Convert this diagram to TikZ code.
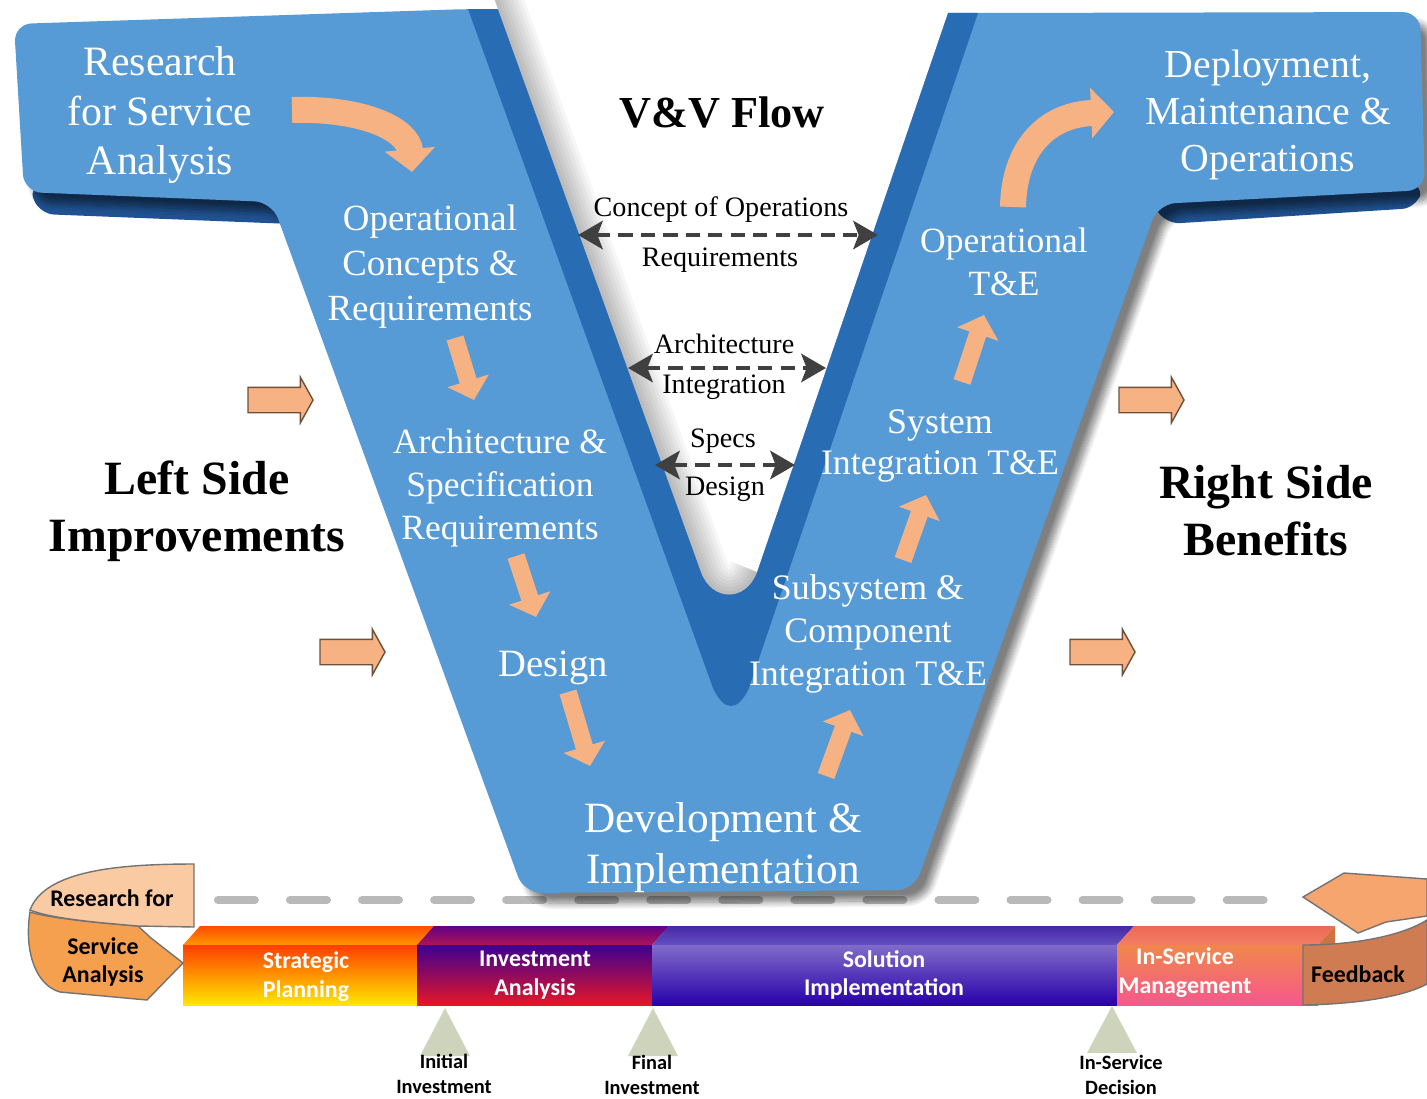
\documentclass[tikz,border=0pt]{standalone}
\usepackage{fontspec}
\setmainfont{Liberation Serif}
\newfontfamily\barfont{Carlito}
\usetikzlibrary{arrows.meta,shapes.arrows,shadows.blur}
\definecolor{vface}{RGB}{86,154,214}
\definecolor{vside}{RGB}{40,108,180}
\definecolor{vunder}{RGB}{32,82,145}
\definecolor{peach}{RGB}{246,178,130}
\definecolor{ddash}{RGB}{64,64,64}
\definecolor{mile}{RGB}{206,211,188}
\definecolor{spA}{RGB}{255,62,0}\definecolor{spB}{RGB}{255,232,0}
\definecolor{spC}{RGB}{255,75,0}\definecolor{spD}{RGB}{255,150,0}
\definecolor{iaA}{RGB}{62,0,145}\definecolor{iaB}{RGB}{228,22,40}
\definecolor{iaC}{RGB}{95,0,135}\definecolor{iaD}{RGB}{175,20,85}
\definecolor{siA}{RGB}{128,108,200}\definecolor{siB}{RGB}{40,0,170}
\definecolor{siC}{RGB}{70,40,165}\definecolor{siD}{RGB}{100,80,195}
\definecolor{smA}{RGB}{240,135,75}\definecolor{smB}{RGB}{246,88,140}
\definecolor{smC}{RGB}{235,105,85}\definecolor{smD}{RGB}{245,125,100}
\definecolor{fbA}{RGB}{246,165,110}\definecolor{fbB}{RGB}{208,124,82}
\definecolor{rsA}{RGB}{250,203,163}\definecolor{rsB}{RGB}{245,160,78}
\begin{document}
\begin{tikzpicture}[x=0.1mm,y=-0.1mm,
  vtext/.style={text=white,align=center,inner sep=0pt},
  vvtext/.style={align=center,inner sep=0pt,font=\fontsize{8}{9}\selectfont},
  sidetext/.style={align=center,font=\bfseries\fontsize{13.6}{16.2}\selectfont},
  flow/.style={peach,line width=5pt,-{Triangle[length=5.7pt,width=12pt]}},
  bigflow/.style={peach,line width=7.4pt,-{Triangle[length=6.5pt,width=14pt]}},
  vvarrow/.style={ddash,line width=1.4pt,dash pattern=on 4pt off 2.4pt,
    {Stealth[length=7pt,width=8pt,inset=1.5pt]}-{Stealth[length=7pt,width=8pt,inset=1.5pt]}},
  sidearrow/.style={single arrow,draw=peach!45!black,fill=peach,line width=0.4pt,
    inner xsep=0pt,inner ysep=1.2mm,single arrow head extend=1mm,
    single arrow tip angle=122,minimum height=6.5mm},
  bartext/.style={text=white,align=center,font=\barfont\bfseries\fontsize{6.8}{8.2}\selectfont},
  miletext/.style={align=center,font=\barfont\bfseries\fontsize{5.8}{7}\selectfont},
  ribbon/.style={draw=black!55,line width=0.4pt},
  milestone/.style={fill=mile}]
\useasboundingbox (0,0) rectangle (1427,1098);
\draw[gray!55,line width=2.3pt,line cap=round,dash pattern=on 10.5pt off 10pt] (218,900) -- (1280,900);
% the V
\fill[vunder,rounded corners=4pt] (28,186) -- (274,196) -- (292,224) -- (40,214) -- cycle;
\fill[vunder,rounded corners=4pt] (1150,200) -- (1424,184) -- (1416,208) -- (1166,224) -- cycle;
\fill[vface,rounded corners=5pt,blur shadow={shadow xshift=3pt,shadow yshift=-3pt,shadow blur steps=10,shadow opacity=50}]
  (14,24) -- (468,9) -- (978,13) -- (1420,12) -- (1425,190) -- (1158,204)
  -- (914,890) -- (524,893) -- (272,202) -- (24,192) -- cycle;
\fill[vside] (468,9) -- (713,688) .. controls (724,712) and (738,712) .. (749,688) -- (978,13) -- cycle;
\fill[white] (494,-2) -- (701,572) .. controls (712,602) and (746,602) .. (757,572) -- (953,-2) -- cycle;
\begin{scope}
\clip (494,-2) -- (701,572) .. controls (712,602) and (746,602) .. (757,572) -- (953,-2) -- cycle;
\foreach \w in {2,4,...,16}
  \draw[black,opacity=0.035,line width=\w pt] (494,-2) -- (701,572) .. controls (712,602) and (746,602) .. (757,572);
\end{scope}
\node[vtext,font=\fontsize{11.9}{14.2}\selectfont] (rsa) at (160,115) {Research\\for Service\\Analysis};
\node[vtext,font=\fontsize{10.5}{12.8}\selectfont] (ocr) at (430,267) {Operational\\Concepts \&\\Requirements};
\node[vtext,font=\fontsize{10.1}{12.2}\selectfont] (asr) at (500,488) {Architecture \&\\Specification\\Requirements};
\node[vtext,font=\fontsize{11}{13}\selectfont] (des) at (553,668) {Design};
\node[vtext,font=\fontsize{12.3}{14.5}\selectfont] (dev) at (723,848) {Development \&\\Implementation};
\node[vtext,font=\fontsize{10.2}{12.2}\selectfont] (sci) at (868,634) {Subsystem \&\\Component\\Integration T\&E};
\node[vtext,font=\fontsize{10.2}{11.7}\selectfont] (sit) at (940,446) {System\\Integration T\&E};
\node[vtext,font=\fontsize{10.1}{12.2}\selectfont] (ote) at (1004,262) {Operational\\T\&E};
\node[vtext,font=\fontsize{11.3}{13.4}\selectfont] (dmo) at (1268,115) {Deployment,\\Maintenance \&\\Operations};
\node[font=\bfseries\fontsize{12.6}{15}\selectfont] (vvf) at (722,112) {V\&V Flow};
\node[sidetext] (lsi) at (197,511) {Left Side\\Improvements};
\node[sidetext] (rsb) at (1266,511) {Right Side\\Benefits};
% verification links
\node[vvtext] (coo) at (721,210) {Concept of Operations};
\node[vvtext] (req) at (720,260) {Requirements};
\node[vvtext] (arc) at (724,344) {Architecture};
\node[vvtext] (int) at (724,387) {Integration};
\node[vvtext] (spc) at (723,441) {Specs};
\node[vvtext] (dsg) at (725,489) {Design};
\coordinate (c1l) at (578,235); \coordinate (c1r) at (878,235);
\coordinate (c2l) at (628,368); \coordinate (c2r) at (826,368);
\coordinate (c3l) at (655,465); \coordinate (c3r) at (795,465);
\draw[vvarrow] (c1l) -- (c1r);
\draw[vvarrow] (c2l) -- (c2r);
\draw[vvarrow] (c3l) -- (c3r);
% flow arrows
\coordinate (f0a) at (292,110); \coordinate (f0b) at (412,172);
\coordinate (f1a) at (455,338); \coordinate (f1b) at (474,400);
\coordinate (f2a) at (516,556); \coordinate (f2b) at (536,617);
\coordinate (f3a) at (568,692); \coordinate (f3b) at (590,766);
\coordinate (f4a) at (826,776); \coordinate (f4b) at (850,710);
\coordinate (f5a) at (903,560); \coordinate (f5b) at (926,495);
\coordinate (f6a) at (962,382); \coordinate (f6b) at (984,315);
\coordinate (f7a) at (1013,207); \coordinate (f7b) at (1114,112);
\draw[bigflow] (f0a) .. controls (365,108) and (408,130) .. (f0b);
\draw[flow] (f1a) -- (f1b);
\draw[flow] (f2a) -- (f2b);
\draw[flow] (f3a) -- (f3b);
\draw[flow] (f4a) -- (f4b);
\draw[flow] (f5a) -- (f5b);
\draw[flow] (f6a) -- (f6b);
\draw[bigflow] (f7a) .. controls (1014,150) and (1045,115) .. (f7b);
\node[sidearrow] (la1) at (277,400) {};
\node[sidearrow] (la2) at (349,652) {};
\node[sidearrow] (ra1) at (1148,400) {};
\node[sidearrow] (ra2) at (1099,652) {};
% life cycle bar
\shade[top color=spC,bottom color=spD] (183,945) -- (200,926) -- (434,926) -- (417,945) -- cycle;
\shade[top color=iaC,bottom color=iaD] (417,945) -- (434,926) -- (669,926) -- (652,945) -- cycle;
\shade[top color=siC,bottom color=siD] (652,945) -- (669,926) -- (1134,926) -- (1117,945) -- cycle;
\shade[top color=smC,bottom color=smD] (1117,945) -- (1134,926) -- (1335,926) -- (1318,945) -- cycle;
\fill[smA!85!black] (1318,945) -- (1335,926) -- (1335,986) -- (1318,1005) -- cycle;
\shade[top color=spA,bottom color=spB] (183,945) rectangle (417,1005);
\shade[top color=iaA,bottom color=iaB] (417,945) rectangle (652,1005);
\shade[top color=siA,bottom color=siB] (652,945) rectangle (1117,1005);
\shade[top color=smA,bottom color=smB] (1117,945) rectangle (1318,1005);
\node[bartext] (spl) at (306,977) {Strategic\\Planning};
\node[bartext] (ian) at (535,975) {Investment\\Analysis};
\node[bartext] (sim) at (884,975) {Solution\\Implementation};
\node[bartext] (ism) at (1185,973) {In-Service\\Management};
\filldraw[ribbon,fill=fbA] (1303,897) -- (1344,873) -- (1427,879) -- (1427,916) -- (1386,922) -- (1358,933) -- cycle;
\filldraw[ribbon,fill=fbB] (1303,945) -- (1303,1005) .. controls (1360,1004) and (1405,996) .. (1427,984)
  -- (1427,920) .. controls (1405,934) and (1360,945) .. (1303,945) -- cycle;
\node[miletext,font=\barfont\bfseries\fontsize{6.8}{8.2}\selectfont] (fbk) at (1358,974) {Feedback};
\filldraw[ribbon,fill=rsB] (30,912) .. controls (24,950) and (35,985) .. (60,992) -- (147,1000) -- (183,963)
  -- (151,938) -- (138,926) .. controls (90,922) and (50,918) .. (30,912) -- cycle;
\filldraw[ribbon,fill=rsA] (30,910) .. controls (45,870) and (120,864) .. (194,864) -- (194,927)
  -- (138,926) .. controls (90,922) and (50,918) .. (30,910) -- cycle;
\node[miletext,font=\barfont\bfseries\fontsize{6.8}{8.2}\selectfont] (rfr) at (112,898) {Research for};
\node[miletext,font=\barfont\bfseries\fontsize{6.8}{8.2}\selectfont] (svc) at (103,962) {Service\\Analysis};
% decision points
\fill[milestone] (445,1008) -- (470,1056) -- (420,1056) -- cycle;
\fill[milestone] (653,1008) -- (678,1056) -- (628,1056) -- cycle;
\fill[milestone] (1112,1006) -- (1137,1053) -- (1087,1053) -- cycle;
\node[miletext] (ini) at (444,1074) {Initial\\Investment};
\node[miletext] (fin) at (652,1075) {Final\\Investment};
\node[miletext] (isd) at (1121,1075) {In-Service\\Decision};
\end{tikzpicture}
\end{document}
